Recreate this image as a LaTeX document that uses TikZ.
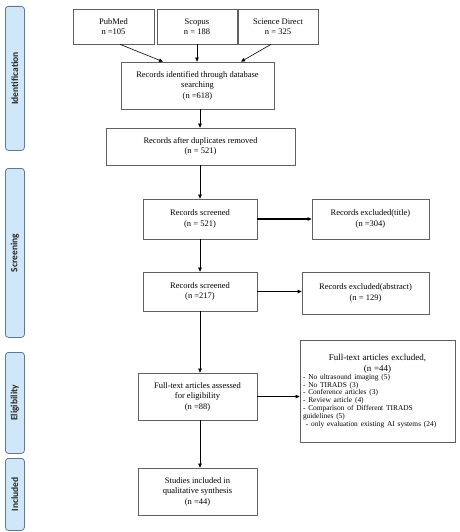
\documentclass[tikz,border=0pt]{standalone}
\usepackage{fontspec}
\setmainfont{Liberation Serif}
\newfontfamily\barfont{Carlito}
\usetikzlibrary{arrows.meta,calc}
\definecolor{barfill}{HTML}{CFE7F8}
\definecolor{barline}{HTML}{5F7A8E}
\definecolor{boxline}{HTML}{606060}
\tikzset{
  box/.style={draw=boxline, line width=0.7pt, fill=white, align=center, inner sep=2pt,
    font=\fontsize{8.5}{10.5}\selectfont},
  sidebar/.style={draw=barline, fill=barfill, line width=0.8pt, rounded corners=3pt,
    minimum width=19pt, anchor=north west},
  bartext/.style={rotate=90, font=\barfont\bfseries\fontsize{9.5}{10}\selectfont, text=black!85},
  arr/.style={-{Triangle[length=4pt,width=3.5pt]}, line width=0.6pt, black},
  harr/.style={-{Triangle[length=4pt,width=3.5pt]}, line width=1.1pt, black}
}
\begin{document}
\begin{tikzpicture}[x=1pt,y=-1pt]
\useasboundingbox (0,0) rectangle (459,532);
% side bars
\node[sidebar, minimum height=144pt] (b1) at (5,6) {};
\node[bartext] (t1) at (b1.center) {Identification};
\node[sidebar, minimum height=169pt] (b2) at (5,168) {};
\node[bartext] (t2) at (b2.center) {Screening};
\node[sidebar, minimum height=101pt] (b3) at (5,352) {};
\node[bartext] (t3) at (b3.center) {Eligibility};
\node[sidebar, minimum height=72pt] (b4) at (5,458) {};
\node[bartext] (t4) at (b4.center) {Included};
% boxes
\node[box, minimum width=81pt, minimum height=35pt] (pub) at (113.5,26.5) {PubMed\\ n =105};
\node[box, minimum width=80pt, minimum height=35pt] (sco) at (197,26.5) {Scopus\\ n = 188};
\node[box, minimum width=80pt, minimum height=35pt] (sci) at (278,26.5) {Science Direct\\ n = 325};
\node[box, minimum width=153pt, minimum height=47pt] (ide) at (197.5,85.5) {Records identified through database\\ searching\\ (n =618)};
\node[box, minimum width=189pt, minimum height=37pt] (dup) at (200.5,146.5) {Records after duplicates removed\\ (n = 521)};
\node[box, minimum width=114pt, minimum height=40pt] (sc1) at (200,219) {Records screened\\ (n = 521)};
\node[box, minimum width=117pt, minimum height=40pt] (ex1) at (370.5,219) {Records excluded(title)\\ (n =304)};
\node[box, minimum width=114pt, minimum height=39pt] (sc2) at (200,291.5) {Records screened\\ (n =217)};
\node[box, minimum width=127pt, minimum height=42pt] (ex2) at (365.5,293) {Records excluded(abstract)\\ (n = 129)};
\node[box, minimum width=119pt, minimum height=47pt] (ful) at (197.5,396.5) {Full-text articles assessed\\ for eligibility\\ (n =88)};
\node[box, minimum width=155pt, minimum height=102pt, text width=149pt, align=left] (fex) at (377.5,391)
 {\centering\fontsize{9}{11}\selectfont Full-text articles excluded,\\ (n =44)\par
  \raggedright\fontsize{7.4}{7.8}\selectfont
  - No ultrasound imaging (5)\\
  - No TIRADS (3)\\
  - Conference articles (3)\\
  - Review article (4)\\
  - Comparison of Different TIRADS\\ guidelines (5)\\
  \ - only evaluation existing AI systems (24)\par};
\node[box, minimum width=119pt, minimum height=47pt] (inc) at (197.5,491.5) {Studies included in\\ qualitative synthesis\\ (n =44)};
% connectors
\draw[arr] ($(pub.south)+(6.5,0)$) -- ($(ide.north)+(-34.5,0)$);
\draw[arr] (sco.south) -- (sco.south |- ide.north);
\draw[arr] ($(sci.south)+(-7,0)$) -- ($(ide.north)+(43.5,0)$);
\draw[arr] ($(ide.south)+(2.5,0)$) -- ($(dup.north)+(-0.5,0)$);
\draw[arr] ($(dup.south)+(-0.5,0)$) -- (sc1.north);
\draw[arr] (sc1.south) -- (sc2.north);
\draw[arr] (sc2.south) -- ($(ful.north)+(2.5,0)$);
\draw[arr] ($(ful.south)+(2.5,0)$) -- ($(inc.north)+(2.5,0)$);
\draw[harr] (sc1.east) -- (ex1.west);
\draw[harr] (sc2.east) -- (sc2.east -| ex2.west);
\draw[harr] (ful.east) -- (ful.east -| fex.west);
\end{tikzpicture}
\end{document}
